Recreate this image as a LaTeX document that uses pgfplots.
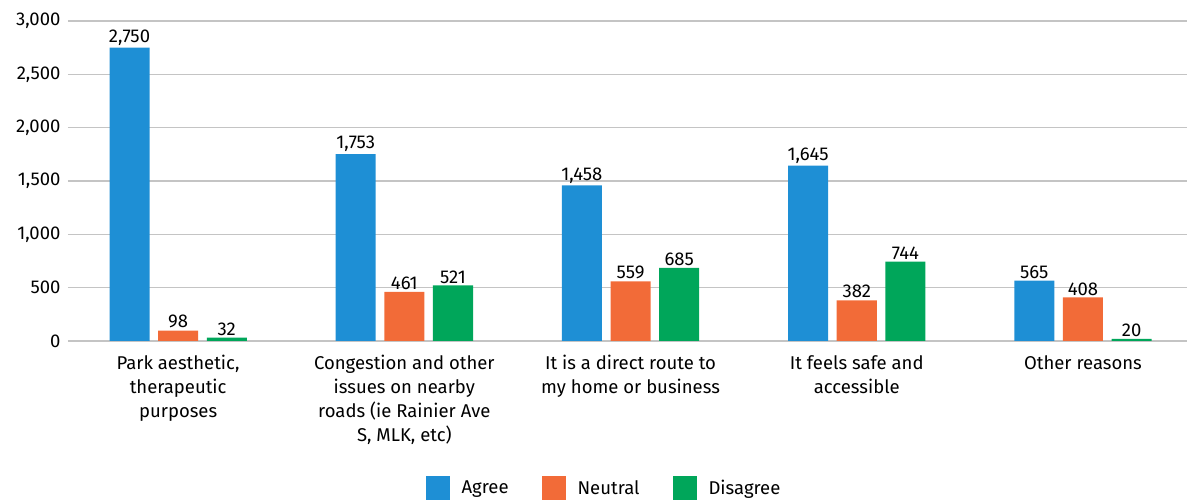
\documentclass[border=0pt]{standalone}
\usepackage{pgfplots}
\pgfplotsset{compat=1.18}
\usepackage{fontspec}
\setmainfont{Fira Sans}
\definecolor{agree}{HTML}{1E8FD5}
\definecolor{neutral}{HTML}{F26B38}
\definecolor{disagree}{HTML}{00A65A}
\definecolor{gridgray}{HTML}{C4C4C4}
\newcommand{\lab}{\fontsize{18.5}{24}\selectfont}
\begin{document}
\begin{tikzpicture}
\begin{axis}[
    scale only axis,
    width=1119pt, height=320pt,
    ymin=0, ymax=3000,
    xmin=-0.487, xmax=4.46,
    ytick={0,500,1000,1500,2000,2500,3000},
    xtick={0,1,2,3,4},
    xticklabels={{Park aesthetic,\\therapeutic\\purposes},
        {Congestion and other\\issues on nearby\\roads (ie Rainier Ave\\S, MLK, etc)},
        {It is a direct route to\\my home or business},
        {It feels safe and\\accessible},
        {Other reasons}},
    xticklabel style={align=center, font=\lab, anchor=north, yshift=-11pt},
    yticklabel style={font=\lab, xshift=-4pt},
    /pgf/number format/.cd, 1000 sep={,}, assume math mode=true,
    /pgfplots/.cd,
    ymajorgrids,
    grid style={gridgray, line width=1.2pt},
    axis line style={draw=none},
    major tick length=0pt,
    ybar, bar width=0.177,
    nodes near coords,
    nodes near coords style={font=\lab, inner sep=2pt},
    legend columns=3,
    legend style={at={(0.479,-0.459)}, anchor=center, draw=none, font=\lab,
        /tikz/every odd column/.append style={column sep=10pt},
        /tikz/every even column/.append style={column sep=31pt}},
    legend image code/.code={\fill[#1] (0pt,-12pt) rectangle (24pt,12pt);},
]
\addplot[fill=agree, draw=none, bar shift=-0.215]
    coordinates {(0,2750) (1,1753) (2,1458) (3,1645) (4,565)};
\addplot[fill=neutral, draw=none, bar shift=0]
    coordinates {(0,98) (1,461) (2,559) (3,382) (4,408)};
\addplot[fill=disagree, draw=none, bar shift=0.215]
    coordinates {(0,32) (1,521) (2,685) (3,744) (4,20)};
\legend{Agree, Neutral, Disagree}
\end{axis}
\pgfresetboundingbox
\path (current axis.south west) ++(-68pt,-159pt) rectangle ++(1187pt,500pt);
\end{tikzpicture}
\end{document}
